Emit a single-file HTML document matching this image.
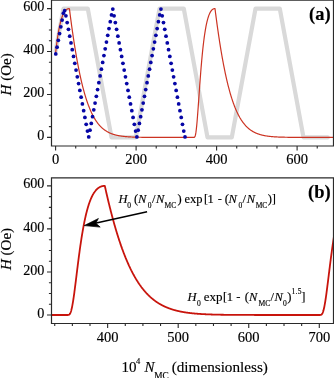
<!DOCTYPE html>
<html><head><meta charset="utf-8"><style>
html,body{margin:0;padding:0;background:#fff;overflow:hidden;}
svg{display:block;}
text{font-family:"Liberation Serif",serif;stroke:#000;stroke-width:0.15px;}
.t{will-change:transform;}
</style></head><body>
<svg class="t" width="334" height="378" viewBox="0 0 334 378">
<defs>
<clipPath id="ca"><rect x="51.5" y="0.5" width="282" height="145.5"/></clipPath>
<clipPath id="cb"><rect x="51.5" y="177.8" width="282" height="145.7"/></clipPath>
</defs>
<rect width="334" height="378" fill="#fff"/>
<g clip-path="url(#ca)">
<path d="M55.60,51.00 L63.50,8.60 L87.80,8.60 L111.50,137.40 L135.80,137.40 L159.50,8.60 L183.80,8.60 L207.50,137.40 L231.80,137.40 L255.50,8.60 L279.80,8.60 L303.50,137.40 L327.80,137.40" fill="none" stroke="#d9d9d9" stroke-width="4.2" stroke-linejoin="round" stroke-linecap="round"/>
<path d="M55.60,53.20 L55.80,51.39 L56.00,49.62 L56.20,47.91 L56.41,46.25 L56.61,44.64 L56.81,43.08 L57.01,41.57 L57.21,40.10 L57.41,38.69 L57.61,37.32 L57.81,35.99 L58.02,34.72 L58.22,33.48 L58.42,32.29 L58.62,31.14 L58.82,30.03 L59.02,28.96 L59.22,27.93 L59.42,26.93 L59.62,25.98 L59.83,25.06 L60.03,24.17 L60.23,23.32 L60.43,22.51 L60.63,21.72 L60.83,20.97 L61.03,20.25 L61.23,19.55 L61.44,18.89 L61.64,18.26 L61.84,17.65 L62.04,17.07 L62.24,16.51 L62.44,15.98 L62.64,15.47 L62.84,14.99 L63.05,14.53 L63.25,14.09 L63.45,13.67 L63.65,13.28 L63.85,12.90 L64.05,12.55 L64.25,12.21 L64.45,11.89 L64.66,11.59 L64.86,11.31 L65.06,11.05 L65.26,10.80 L65.46,10.56 L65.66,10.35 L65.86,10.14 L66.06,9.95 L66.27,9.78 L66.47,9.62 L66.67,9.47 L66.87,9.34 L67.07,9.21 L67.27,9.10 L67.47,9.00 L67.67,8.92 L67.88,8.84 L68.08,8.77 L68.28,8.72 L68.48,8.67 L68.68,8.64 L68.88,8.61 L69.08,8.59 L69.28,8.58 L69.49,9.22 L69.69,10.82 L69.89,12.41 L70.09,13.98 L70.29,15.53 L70.49,17.08 L70.69,18.61 L70.90,20.13 L71.10,21.63 L71.30,23.12 L71.50,24.60 L71.70,26.06 L71.90,27.51 L72.10,28.95 L72.30,30.37 L72.50,31.78 L72.71,33.17 L72.91,34.56 L73.11,35.92 L73.31,37.28 L73.51,38.62 L73.71,39.95 L73.91,41.27 L74.12,42.57 L74.32,43.86 L74.52,45.13 L74.72,46.40 L74.92,47.65 L75.12,48.88 L75.32,50.11 L75.52,51.32 L75.72,52.52 L75.93,53.70 L76.13,54.88 L76.33,56.04 L76.53,57.18 L76.73,58.32 L76.93,59.44 L77.13,60.55 L77.34,61.65 L77.54,62.73 L77.74,63.81 L77.94,64.87 L78.14,65.92 L78.34,66.95 L78.54,67.98 L78.74,68.99 L78.95,69.99 L79.15,70.98 L79.35,71.96 L79.55,72.92 L79.75,73.88 L79.95,74.82 L80.15,75.75 L80.35,76.67 L80.56,77.58 L80.76,78.48 L80.96,79.37 L81.16,80.25 L81.36,81.11 L81.56,81.97 L81.76,82.81 L81.96,83.65 L82.17,84.47 L82.37,85.28 L82.57,86.08 L82.77,86.88 L82.97,87.66 L83.17,88.43 L83.37,89.19 L83.57,89.94 L83.78,90.69 L83.98,91.42 L84.18,92.14 L84.38,92.86 L84.58,93.56 L84.78,94.25 L84.98,94.94 L85.18,95.62 L85.39,96.28 L85.59,96.94 L85.79,97.59 L85.99,98.23 L86.19,98.86 L86.39,99.48 L86.59,100.10 L86.79,100.70 L87.00,101.30 L87.20,101.89 L87.40,102.47 L87.60,103.04 L87.80,103.61 L88.00,104.17 L88.20,104.71 L88.40,105.26 L88.61,105.79 L88.81,106.31 L89.01,106.83 L89.21,107.34 L89.41,107.85 L89.61,108.34 L89.81,108.83 L90.01,109.31 L90.22,109.79 L90.42,110.25 L90.62,110.71 L90.82,111.17 L91.02,111.62 L91.22,112.06 L91.42,112.49 L91.62,112.92 L91.83,113.34 L92.03,113.75 L92.23,114.16 L92.43,114.56 L92.63,114.96 L92.83,115.35 L93.03,115.73 L93.23,116.11 L93.44,116.48 L93.64,116.85 L93.84,117.21 L94.04,117.56 L94.24,117.91 L94.44,118.26 L94.64,118.60 L94.84,118.93 L95.05,119.26 L95.25,119.58 L95.45,119.90 L95.65,120.21 L95.85,120.52 L96.05,120.82 L96.25,121.12 L96.45,121.42 L96.66,121.70 L96.86,121.99 L97.06,122.27 L97.26,122.54 L97.46,122.81 L97.66,123.08 L97.86,123.34 L98.06,123.60 L98.27,123.85 L98.47,124.10 L98.67,124.34 L98.87,124.58 L99.07,124.82 L99.27,125.05 L99.47,125.28 L99.67,125.51 L99.88,125.73 L100.08,125.95 L100.28,126.16 L100.48,126.37 L100.68,126.58 L100.88,126.78 L101.08,126.98 L101.28,127.18 L101.49,127.37 L101.69,127.56 L101.89,127.75 L102.09,127.93 L102.29,128.11 L102.49,128.29 L102.69,128.46 L102.89,128.63 L103.09,128.80 L103.30,128.96 L103.50,129.13 L103.70,129.28 L103.90,129.44 L104.10,129.59 L104.30,129.75 L104.50,129.89 L104.71,130.04 L104.91,130.18 L105.11,130.32 L105.31,130.46 L105.51,130.60 L105.71,130.73 L105.91,130.86 L106.11,130.99 L106.31,131.11 L106.52,131.24 L106.72,131.36 L106.92,131.48 L107.12,131.60 L107.32,131.71 L107.52,131.82 L107.72,131.94 L107.93,132.04 L108.13,132.15 L108.33,132.26 L108.53,132.36 L108.73,132.46 L108.93,132.56 L109.13,132.66 L109.33,132.75 L109.53,132.85 L109.74,132.94 L109.94,133.03 L110.14,133.12 L110.34,133.20 L110.54,133.29 L110.74,133.37 L110.94,133.45 L111.15,133.54 L111.35,133.61 L111.55,133.69 L111.75,133.77 L111.95,133.84 L112.15,133.92 L112.35,133.99 L112.55,134.06 L112.75,134.13 L112.96,134.19 L113.16,134.26 L113.36,134.33 L113.56,134.39 L113.76,134.45 L113.96,134.51 L114.16,134.57 L114.37,134.63 L114.57,134.69 L114.77,134.75 L114.97,134.80 L115.17,134.86 L115.37,134.91 L115.57,134.96 L115.77,135.02 L115.98,135.07 L116.18,135.12 L116.38,135.16 L116.58,135.21 L116.78,135.26 L116.98,135.30 L117.18,135.35 L117.38,135.39 L117.59,135.44 L117.79,135.48 L117.99,135.52 L118.19,135.56 L118.39,135.60 L118.59,135.64 L118.79,135.68 L118.99,135.71 L119.20,135.75 L119.40,135.78 L119.60,135.82 L119.80,135.85 L120.00,135.89 L120.20,135.92 L120.40,135.95 L120.60,135.98 L120.81,136.02 L121.01,136.05 L121.21,136.08 L121.41,136.10 L121.61,136.13 L121.81,136.16 L122.01,136.19 L122.21,136.21 L122.41,136.24 L122.62,136.27 L122.82,136.29 L123.02,136.32 L123.22,136.34 L123.42,136.36 L123.62,136.39 L123.82,136.41 L124.03,136.43 L124.23,136.45 L124.43,136.47 L124.63,136.50 L124.83,136.52 L125.03,136.54 L125.23,136.55 L125.43,136.57 L125.64,136.59 L125.84,136.61 L126.04,136.63 L126.24,136.65 L126.44,136.66 L126.64,136.68 L126.84,136.70 L127.04,136.71 L127.25,136.73 L127.45,136.74 L127.65,136.76 L127.85,136.77 L128.05,136.79 L128.25,136.80 L128.45,136.81 L128.65,136.83 L128.86,136.84 L129.06,136.85 L129.26,136.87 L129.46,136.88 L129.66,136.89 L129.86,136.90 L130.06,136.91 L130.26,136.93 L130.47,136.94 L130.67,136.95 L130.87,136.96 L131.07,136.97 L131.27,136.98 L131.47,136.99 L131.67,137.00 L131.87,137.01 L132.08,137.02 L132.28,137.03 L132.48,137.03 L132.68,137.04 L132.88,137.05 L133.08,137.06 L133.28,137.07 L133.48,137.08 L133.69,137.08 L133.89,137.09 L134.09,137.10 L134.29,137.10 L134.49,137.11 L134.69,137.12 L134.89,137.13 L135.09,137.13 L135.30,137.14 L135.50,137.14 L135.70,137.15 L135.90,137.16 L136.10,137.16 L136.30,137.17 L136.50,137.17 L136.70,137.18 L136.91,137.18 L137.11,137.19 L137.31,137.19 L137.51,137.20 L137.71,137.20 L137.91,137.21 L138.11,137.21 L138.31,137.22 L138.52,137.22 L138.72,137.23 L138.92,137.23 L139.12,137.24 L139.32,137.24 L139.52,137.24 L139.72,137.25 L139.92,137.25 L140.12,137.25 L140.33,137.26 L140.53,137.26 L140.73,137.26 L140.93,137.27 L141.13,137.27 L141.33,137.27 L141.53,137.28 L141.74,137.28 L141.94,137.28 L142.14,137.29 L142.34,137.29 L142.54,137.29 L142.74,137.29 L142.94,137.30 L143.14,137.30 L143.34,137.30 L143.55,137.30 L143.75,137.31 L143.95,137.31 L144.15,137.31 L144.35,137.31 L144.55,137.32 L144.75,137.32 L144.96,137.32 L145.16,137.32 L145.36,137.32 L145.56,137.33 L145.76,137.33 L145.96,137.33 L146.16,137.33 L146.36,137.33 L146.56,137.34 L146.77,137.34 L146.97,137.34 L147.17,137.34 L147.37,137.34 L147.57,137.34 L147.77,137.34 L147.97,137.35 L148.18,137.35 L148.38,137.35 L148.58,137.35 L148.78,137.35 L148.98,137.35 L149.18,137.35 L149.38,137.35 L149.58,137.36 L149.78,137.36 L149.99,137.36 L150.19,137.36 L150.39,137.36 L150.59,137.36 L150.79,137.36 L150.99,137.36 L151.19,137.36 L151.40,137.37 L151.60,137.37 L151.80,137.37 L152.00,137.37 L152.20,137.37 L152.40,137.37 L152.60,137.37 L152.80,137.37 L153.00,137.37 L153.21,137.37 L153.41,137.37 L153.61,137.37 L153.81,137.37 L154.01,137.38 L154.21,137.38 L154.41,137.38 L154.62,137.38 L154.82,137.38 L155.02,137.38 L155.22,137.38 L155.42,137.38 L155.62,137.38 L155.82,137.38 L156.02,137.38 L156.22,137.38 L156.43,137.38 L156.63,137.38 L156.83,137.38 L157.03,137.38 L157.23,137.38 L157.43,137.38 L157.63,137.38 L157.84,137.39 L158.04,137.39 L158.24,137.39 L158.44,137.39 L158.64,137.39 L158.84,137.39 L159.04,137.39 L159.24,137.39 L159.45,137.39 L159.65,137.39 L159.85,137.39 L160.05,137.39 L160.25,137.39 L160.45,137.39 L160.65,137.39 L160.85,137.39 L161.06,137.39 L161.26,137.39 L161.46,137.39 L161.66,137.39 L161.86,137.39 L162.06,137.39 L162.26,137.39 L162.46,137.39 L162.67,137.39 L162.87,137.39 L163.07,137.39 L163.27,137.39 L163.47,137.39 L163.67,137.39 L163.87,137.39 L164.07,137.39 L164.28,137.39 L164.48,137.39 L164.68,137.39 L164.88,137.39 L165.08,137.39 L165.28,137.39 L165.48,137.39 L165.68,137.39 L165.89,137.40 L166.09,137.40 L166.29,137.40 L166.49,137.40 L166.69,137.40 L166.89,137.40 L167.09,137.40 L167.29,137.40 L167.50,137.40 L167.70,137.40 L167.90,137.40 L168.10,137.40 L168.30,137.40 L168.50,137.40 L168.70,137.40 L168.90,137.40 L169.11,137.40 L169.31,137.40 L169.51,137.40 L169.71,137.40 L169.91,137.40 L170.11,137.40 L170.31,137.40 L170.51,137.40 L170.72,137.40 L170.92,137.40 L171.12,137.40 L171.32,137.40 L171.52,137.40 L171.72,137.40 L171.92,137.40 L172.12,137.40 L172.33,137.40 L172.53,137.40 L172.73,137.40 L172.93,137.40 L173.13,137.40 L173.33,137.40 L173.53,137.40 L173.73,137.40 L173.94,137.40 L174.14,137.40 L174.34,137.40 L174.54,137.40 L174.74,137.40 L174.94,137.40 L175.14,137.40 L175.34,137.40 L175.55,137.40 L175.75,137.40 L175.95,137.40 L176.15,137.40 L176.35,137.40 L176.55,137.40 L176.75,137.40 L176.95,137.40 L177.16,137.40 L177.36,137.40 L177.56,137.40 L177.76,137.40 L177.96,137.40 L178.16,137.40 L178.36,137.40 L178.56,137.40 L178.77,137.40 L178.97,137.40 L179.17,137.40 L179.37,137.40 L179.57,137.40 L179.77,137.40 L179.97,137.40 L180.17,137.40 L180.38,137.40 L180.58,137.40 L180.78,137.40 L180.98,137.40 L181.18,137.40 L181.38,137.40 L181.58,137.40 L181.78,137.40 L181.99,137.40 L182.19,137.40 L182.39,137.40 L182.59,137.40 L182.79,137.40 L182.99,137.40 L183.19,137.40 L183.39,137.40 L183.59,137.40 L183.80,137.40 L184.00,137.40 L184.20,137.40 L184.40,137.40 L184.60,137.40 L184.80,137.40 L185.00,137.40 L185.21,137.40 L185.41,137.40 L185.61,137.40 L185.81,137.40 L186.01,137.40 L186.21,137.40 L186.41,137.40 L186.61,137.40 L186.81,137.40 L187.02,137.40 L187.22,137.40 L187.42,137.40 L187.62,137.40 L187.82,137.40 L188.02,137.40 L188.22,137.40 L188.43,137.40 L188.63,137.40 L188.83,137.40 L189.03,137.40 L189.23,137.40 L189.43,137.40 L189.63,137.40 L189.83,137.40 L190.03,137.40 L190.24,137.40 L190.44,137.40 L190.64,137.40 L190.84,137.40 L191.04,137.40 L191.24,137.40 L191.44,137.40 L191.65,137.40 L191.85,137.40 L192.05,137.40 L192.25,137.40 L192.45,137.40 L192.65,137.40 L192.85,137.40 L193.05,137.40 L193.25,137.40 L193.46,137.40 L193.66,137.40 L193.86,137.39 L194.06,137.37 L194.26,137.32 L194.46,137.21 L194.66,137.02 L194.87,136.71 L195.07,136.26 L195.27,135.65 L195.47,134.84 L195.67,133.84 L195.87,132.64 L196.07,131.23 L196.27,129.62 L196.47,127.83 L196.68,125.85 L196.88,123.72 L197.08,121.43 L197.28,119.02 L197.48,116.50 L197.68,113.89 L197.88,111.20 L198.09,108.45 L198.29,105.66 L198.49,102.83 L198.69,99.98 L198.89,97.13 L199.09,94.28 L199.29,91.44 L199.49,88.62 L199.69,85.84 L199.90,83.08 L200.10,80.37 L200.30,77.70 L200.50,75.08 L200.70,72.52 L200.90,70.01 L201.10,67.55 L201.31,65.16 L201.51,62.83 L201.71,60.56 L201.91,58.35 L202.11,56.21 L202.31,54.13 L202.51,52.11 L202.71,50.16 L202.91,48.27 L203.12,46.43 L203.32,44.66 L203.52,42.95 L203.72,41.30 L203.92,39.71 L204.12,38.17 L204.32,36.69 L204.53,35.27 L204.73,33.89 L204.93,32.57 L205.13,31.30 L205.33,30.08 L205.53,28.91 L205.73,27.78 L205.93,26.70 L206.13,25.66 L206.34,24.67 L206.54,23.72 L206.74,22.81 L206.94,21.93 L207.14,21.10 L207.34,20.30 L207.54,19.54 L207.75,18.82 L207.95,18.12 L208.15,17.47 L208.35,16.84 L208.55,16.24 L208.75,15.67 L208.95,15.13 L209.15,14.62 L209.35,14.14 L209.56,13.68 L209.76,13.25 L209.96,12.84 L210.16,12.45 L210.36,12.09 L210.56,11.75 L210.76,11.43 L210.97,11.13 L211.17,10.86 L211.37,10.60 L211.57,10.36 L211.77,10.13 L211.97,9.93 L212.17,9.74 L212.37,9.57 L212.58,9.41 L212.78,9.27 L212.98,9.14 L213.18,9.03 L213.38,8.93 L213.58,8.85 L213.78,8.77 L213.98,8.71 L214.19,8.66 L214.39,8.63 L214.59,8.60 L214.79,8.59 L214.99,8.58 L215.19,10.17 L215.39,11.75 L215.59,13.31 L215.80,14.86 L216.00,16.40 L216.20,17.92 L216.40,19.43 L216.60,20.93 L216.80,22.42 L217.00,23.89 L217.20,25.34 L217.41,26.79 L217.61,28.22 L217.81,29.64 L218.01,31.04 L218.21,32.43 L218.41,33.81 L218.61,35.18 L218.81,36.53 L219.02,37.87 L219.22,39.19 L219.42,40.50 L219.62,41.80 L219.82,43.09 L220.02,44.36 L220.22,45.62 L220.42,46.87 L220.62,48.11 L220.83,49.33 L221.03,50.54 L221.23,51.73 L221.43,52.92 L221.63,54.09 L221.83,55.25 L222.03,56.39 L222.24,57.53 L222.44,58.65 L222.64,59.76 L222.84,60.86 L223.04,61.94 L223.24,63.01 L223.44,64.08 L223.64,65.12 L223.84,66.16 L224.05,67.19 L224.25,68.20 L224.45,69.20 L224.65,70.19 L224.85,71.17 L225.05,72.14 L225.25,73.10 L225.46,74.04 L225.66,74.97 L225.86,75.90 L226.06,76.81 L226.26,77.71 L226.46,78.60 L226.66,79.48 L226.86,80.34 L227.06,81.20 L227.27,82.05 L227.47,82.88 L227.67,83.71 L227.87,84.53 L228.07,85.33 L228.27,86.13 L228.47,86.91 L228.68,87.69 L228.88,88.45 L229.08,89.21 L229.28,89.95 L229.48,90.69 L229.68,91.42 L229.88,92.13 L230.08,92.84 L230.28,93.54 L230.49,94.23 L230.69,94.91 L230.89,95.58 L231.09,96.24 L231.29,96.90 L231.49,97.54 L231.69,98.18 L231.90,98.80 L232.10,99.42 L232.30,100.03 L232.50,100.63 L232.70,101.23 L232.90,101.81 L233.10,102.39 L233.30,102.96 L233.50,103.52 L233.71,104.07 L233.91,104.62 L234.11,105.16 L234.31,105.69 L234.51,106.21 L234.71,106.72 L234.91,107.23 L235.12,107.73 L235.32,108.23 L235.52,108.71 L235.72,109.19 L235.92,109.66 L236.12,110.13 L236.32,110.59 L236.52,111.04 L236.72,111.49 L236.93,111.92 L237.13,112.36 L237.33,112.78 L237.53,113.20 L237.73,113.61 L237.93,114.02 L238.13,114.42 L238.34,114.82 L238.54,115.21 L238.74,115.59 L238.94,115.97 L239.14,116.34 L239.34,116.70 L239.54,117.06 L239.74,117.42 L239.94,117.77 L240.15,118.11 L240.35,118.45 L240.55,118.78 L240.75,119.11 L240.95,119.43 L241.15,119.75 L241.35,120.06 L241.56,120.37 L241.76,120.67 L241.96,120.97 L242.16,121.26 L242.36,121.55 L242.56,121.84 L242.76,122.12 L242.96,122.39 L243.16,122.66 L243.37,122.93 L243.57,123.19 L243.77,123.45 L243.97,123.70 L244.17,123.95 L244.37,124.20 L244.57,124.44 L244.78,124.67 L244.98,124.91 L245.18,125.14 L245.38,125.36 L245.58,125.58 L245.78,125.80 L245.98,126.02 L246.18,126.23 L246.39,126.44 L246.59,126.64 L246.79,126.84 L246.99,127.04 L247.19,127.23 L247.39,127.42 L247.59,127.61 L247.79,127.79 L248.00,127.97 L248.20,128.15 L248.40,128.33 L248.60,128.50 L248.80,128.67 L249.00,128.83 L249.20,129.00 L249.40,129.16 L249.61,129.31 L249.81,129.47 L250.01,129.62 L250.21,129.77 L250.41,129.92 L250.61,130.06 L250.81,130.20 L251.01,130.34 L251.22,130.48 L251.42,130.61 L251.62,130.74 L251.82,130.87 L252.02,131.00 L252.22,131.12 L252.42,131.25 L252.62,131.37 L252.83,131.49 L253.03,131.60 L253.23,131.72 L253.43,131.83 L253.63,131.94 L253.83,132.05 L254.03,132.15 L254.23,132.25 L254.44,132.36 L254.64,132.46 L254.84,132.56 L255.04,132.65 L255.24,132.75 L255.44,132.84 L255.64,132.93 L255.84,133.02 L256.05,133.11 L256.25,133.20 L256.45,133.28 L256.65,133.36 L256.85,133.45 L257.05,133.53 L257.25,133.60 L257.45,133.68 L257.66,133.76 L257.86,133.83 L258.06,133.90 L258.26,133.98 L258.46,134.05 L258.66,134.11 L258.86,134.18 L259.06,134.25 L259.27,134.31 L259.47,134.38 L259.67,134.44 L259.87,134.50 L260.07,134.56 L260.27,134.62 L260.47,134.68 L260.67,134.73 L260.88,134.79 L261.08,134.84 L261.28,134.90 L261.48,134.95 L261.68,135.00 L261.88,135.05 L262.08,135.10 L262.28,135.15 L262.49,135.20 L262.69,135.24 L262.89,135.29 L263.09,135.33 L263.29,135.38 L263.49,135.42 L263.69,135.46 L263.89,135.50 L264.10,135.54 L264.30,135.58 L264.50,135.62 L264.70,135.66 L264.90,135.70 L265.10,135.73 L265.30,135.77 L265.50,135.80 L265.71,135.84 L265.91,135.87 L266.11,135.90 L266.31,135.94 L266.51,135.97 L266.71,136.00 L266.91,136.03 L267.11,136.06 L267.31,136.09 L267.52,136.12 L267.72,136.15 L267.92,136.17 L268.12,136.20 L268.32,136.23 L268.52,136.25 L268.72,136.28 L268.93,136.30 L269.13,136.33 L269.33,136.35 L269.53,136.37 L269.73,136.40 L269.93,136.42 L270.13,136.44 L270.33,136.46 L270.54,136.48 L270.74,136.50 L270.94,136.52 L271.14,136.54 L271.34,136.56 L271.54,136.58 L271.74,136.60 L271.94,136.62 L272.15,136.63 L272.35,136.65 L272.55,136.67 L272.75,136.68 L272.95,136.70 L273.15,136.72 L273.35,136.73 L273.55,136.75 L273.75,136.76 L273.96,136.78 L274.16,136.79 L274.36,136.80 L274.56,136.82 L274.76,136.83 L274.96,136.84 L275.16,136.86 L275.37,136.87 L275.57,136.88 L275.77,136.89 L275.97,136.90 L276.17,136.92 L276.37,136.93 L276.57,136.94 L276.77,136.95 L276.98,136.96 L277.18,136.97 L277.38,136.98 L277.58,136.99 L277.78,137.00 L277.98,137.01 L278.18,137.02 L278.38,137.03 L278.59,137.03 L278.79,137.04 L278.99,137.05 L279.19,137.06 L279.39,137.07 L279.59,137.07 L279.79,137.08 L279.99,137.09 L280.20,137.10 L280.40,137.10 L280.60,137.11 L280.80,137.12 L281.00,137.12 L281.20,137.13 L281.40,137.14 L281.60,137.14 L281.81,137.15 L282.01,137.16 L282.21,137.16 L282.41,137.17 L282.61,137.17 L282.81,137.18 L283.01,137.18 L283.21,137.19 L283.42,137.19 L283.62,137.20 L283.82,137.20 L284.02,137.21 L284.22,137.21 L284.42,137.22 L284.62,137.22 L284.82,137.23 L285.03,137.23 L285.23,137.23 L285.43,137.24 L285.63,137.24 L285.83,137.25 L286.03,137.25 L286.23,137.25 L286.43,137.26 L286.64,137.26 L286.84,137.26 L287.04,137.27 L287.24,137.27 L287.44,137.27 L287.64,137.28 L287.84,137.28 L288.04,137.28 L288.25,137.29 L288.45,137.29 L288.65,137.29 L288.85,137.29 L289.05,137.30 L289.25,137.30 L289.45,137.30 L289.65,137.30 L289.86,137.31 L290.06,137.31 L290.26,137.31 L290.46,137.31 L290.66,137.32 L290.86,137.32 L291.06,137.32 L291.26,137.32 L291.47,137.32 L291.67,137.33 L291.87,137.33 L292.07,137.33 L292.27,137.33 L292.47,137.33 L292.67,137.33 L292.87,137.34 L293.08,137.34 L293.28,137.34 L293.48,137.34 L293.68,137.34 L293.88,137.34 L294.08,137.34 L294.28,137.35 L294.48,137.35 L294.69,137.35 L294.89,137.35 L295.09,137.35 L295.29,137.35 L295.49,137.35 L295.69,137.36 L295.89,137.36 L296.09,137.36 L296.30,137.36 L296.50,137.36 L296.70,137.36 L296.90,137.36 L297.10,137.36 L297.30,137.36 L297.50,137.36 L297.70,137.37 L297.91,137.37 L298.11,137.37 L298.31,137.37 L298.51,137.37 L298.71,137.37 L298.91,137.37 L299.11,137.37 L299.31,137.37 L299.52,137.37 L299.72,137.37 L299.92,137.37 L300.12,137.37 L300.32,137.38 L300.52,137.38 L300.72,137.38 L300.92,137.38 L301.12,137.38 L301.33,137.38 L301.53,137.38 L301.73,137.38 L301.93,137.38 L302.13,137.38 L302.33,137.38 L302.53,137.38 L302.74,137.38 L302.94,137.38 L303.14,137.38 L303.34,137.38 L303.54,137.38 L303.74,137.38 L303.94,137.38 L304.14,137.39 L304.35,137.39 L304.55,137.39 L304.75,137.39 L304.95,137.39 L305.15,137.39 L305.35,137.39 L305.55,137.39 L305.75,137.39 L305.96,137.39 L306.16,137.39 L306.36,137.39 L306.56,137.39 L306.76,137.39 L306.96,137.39 L307.16,137.39 L307.36,137.39 L307.56,137.39 L307.77,137.39 L307.97,137.39 L308.17,137.39 L308.37,137.39 L308.57,137.39 L308.77,137.39 L308.97,137.39 L309.18,137.39 L309.38,137.39 L309.58,137.39 L309.78,137.39 L309.98,137.39 L310.18,137.39 L310.38,137.39 L310.58,137.39 L310.79,137.39 L310.99,137.39 L311.19,137.39 L311.39,137.39 L311.59,137.39 L311.79,137.39 L311.99,137.39 L312.19,137.39 L312.40,137.40 L312.60,137.40 L312.80,137.40 L313.00,137.40 L313.20,137.40 L313.40,137.40 L313.60,137.40 L313.80,137.40 L314.01,137.40 L314.21,137.40 L314.41,137.40 L314.61,137.40 L314.81,137.40 L315.01,137.40 L315.21,137.40 L315.41,137.40 L315.62,137.40 L315.82,137.40 L316.02,137.40 L316.22,137.40 L316.42,137.40 L316.62,137.40 L316.82,137.40 L317.02,137.40 L317.23,137.40 L317.43,137.40 L317.63,137.40 L317.83,137.40 L318.03,137.40 L318.23,137.40 L318.43,137.40 L318.63,137.40 L318.84,137.40 L319.04,137.40 L319.24,137.40 L319.44,137.40 L319.64,137.40 L319.84,137.40 L320.04,137.40 L320.24,137.40 L320.45,137.40 L320.65,137.40 L320.85,137.40 L321.05,137.40 L321.25,137.40 L321.45,137.40 L321.65,137.40 L321.85,137.40 L322.06,137.40 L322.26,137.40 L322.46,137.40 L322.66,137.40 L322.86,137.40 L323.06,137.40 L323.26,137.40 L323.46,137.40 L323.67,137.40 L323.87,137.40 L324.07,137.40 L324.27,137.40 L324.47,137.40 L324.67,137.40 L324.87,137.40 L325.07,137.40 L325.28,137.40 L325.48,137.40 L325.68,137.40 L325.88,137.40 L326.08,137.40 L326.28,137.40 L326.48,137.40 L326.68,137.40 L326.89,137.40 L327.09,137.40 L327.29,137.40 L327.49,137.40 L327.69,137.40 L327.89,137.40 L328.09,137.40 L328.29,137.40 L328.50,137.40 L328.70,137.40 L328.90,137.40 L329.10,137.40 L329.30,137.40 L329.50,137.40 L329.70,137.40 L329.90,137.40 L330.11,137.40 L330.31,137.40 L330.51,137.40 L330.71,137.40 L330.91,137.40 L331.11,137.40 L331.31,137.40 L331.51,137.40 L331.72,137.40 L331.92,137.40 L332.12,137.40 L332.32,137.40 L332.52,137.40 L332.72,137.40 L332.92,137.40 L333.12,137.40 L333.33,137.40" fill="none" stroke="#cc3322" stroke-width="1.2" stroke-linejoin="round"/>
<g fill="#0606a6"><circle cx="55.78" cy="53.91" r="1.88"/><circle cx="57.05" cy="47.13" r="1.88"/><circle cx="58.31" cy="40.35" r="1.88"/><circle cx="59.58" cy="33.58" r="1.88"/><circle cx="60.85" cy="26.80" r="1.88"/><circle cx="62.12" cy="20.02" r="1.88"/><circle cx="63.38" cy="13.24" r="1.88"/><circle cx="64.65" cy="10.74" r="1.88"/><circle cx="65.92" cy="15.81" r="1.88"/><circle cx="67.18" cy="22.59" r="1.88"/><circle cx="68.45" cy="29.36" r="1.88"/><circle cx="69.72" cy="36.14" r="1.88"/><circle cx="70.99" cy="42.92" r="1.88"/><circle cx="72.25" cy="49.70" r="1.88"/><circle cx="73.52" cy="56.48" r="1.88"/><circle cx="74.79" cy="63.26" r="1.88"/><circle cx="76.05" cy="70.04" r="1.88"/><circle cx="77.32" cy="76.82" r="1.88"/><circle cx="78.59" cy="83.60" r="1.88"/><circle cx="79.86" cy="90.38" r="1.88"/><circle cx="81.12" cy="97.15" r="1.88"/><circle cx="82.39" cy="103.93" r="1.88"/><circle cx="83.66" cy="110.71" r="1.88"/><circle cx="84.92" cy="117.49" r="1.88"/><circle cx="86.19" cy="124.27" r="1.88"/><circle cx="87.46" cy="131.05" r="1.88"/><circle cx="88.73" cy="136.97" r="1.88"/><circle cx="89.99" cy="130.19" r="1.88"/><circle cx="91.26" cy="123.41" r="1.88"/><circle cx="92.53" cy="116.64" r="1.88"/><circle cx="93.79" cy="109.86" r="1.88"/><circle cx="95.06" cy="103.08" r="1.88"/><circle cx="96.33" cy="96.30" r="1.88"/><circle cx="97.59" cy="89.52" r="1.88"/><circle cx="98.86" cy="82.74" r="1.88"/><circle cx="100.13" cy="75.96" r="1.88"/><circle cx="101.40" cy="69.18" r="1.88"/><circle cx="102.66" cy="62.40" r="1.88"/><circle cx="103.93" cy="55.62" r="1.88"/><circle cx="105.20" cy="48.85" r="1.88"/><circle cx="106.46" cy="42.07" r="1.88"/><circle cx="107.73" cy="35.29" r="1.88"/><circle cx="109.00" cy="28.51" r="1.88"/><circle cx="110.27" cy="21.73" r="1.88"/><circle cx="111.53" cy="14.95" r="1.88"/><circle cx="112.80" cy="9.03" r="1.88"/><circle cx="114.07" cy="15.81" r="1.88"/><circle cx="115.33" cy="22.59" r="1.88"/><circle cx="116.60" cy="29.36" r="1.88"/><circle cx="117.87" cy="36.14" r="1.88"/><circle cx="119.14" cy="42.92" r="1.88"/><circle cx="120.40" cy="49.70" r="1.88"/><circle cx="121.67" cy="56.48" r="1.88"/><circle cx="122.94" cy="63.26" r="1.88"/><circle cx="124.20" cy="70.04" r="1.88"/><circle cx="125.47" cy="76.82" r="1.88"/><circle cx="126.74" cy="83.60" r="1.88"/><circle cx="128.01" cy="90.38" r="1.88"/><circle cx="129.27" cy="97.15" r="1.88"/><circle cx="130.54" cy="103.93" r="1.88"/><circle cx="131.81" cy="110.71" r="1.88"/><circle cx="133.07" cy="117.49" r="1.88"/><circle cx="134.34" cy="124.27" r="1.88"/><circle cx="135.61" cy="131.05" r="1.88"/><circle cx="136.88" cy="136.97" r="1.88"/><circle cx="138.14" cy="130.19" r="1.88"/><circle cx="139.41" cy="123.41" r="1.88"/><circle cx="140.68" cy="116.64" r="1.88"/><circle cx="141.94" cy="109.86" r="1.88"/><circle cx="143.21" cy="103.08" r="1.88"/><circle cx="144.48" cy="96.30" r="1.88"/><circle cx="145.74" cy="89.52" r="1.88"/><circle cx="147.01" cy="82.74" r="1.88"/><circle cx="148.28" cy="75.96" r="1.88"/><circle cx="149.55" cy="69.18" r="1.88"/><circle cx="150.81" cy="62.40" r="1.88"/><circle cx="152.08" cy="55.62" r="1.88"/><circle cx="153.35" cy="48.85" r="1.88"/><circle cx="154.61" cy="42.07" r="1.88"/><circle cx="155.88" cy="35.29" r="1.88"/><circle cx="157.15" cy="28.51" r="1.88"/><circle cx="158.42" cy="21.73" r="1.88"/><circle cx="159.68" cy="14.95" r="1.88"/><circle cx="160.95" cy="9.03" r="1.88"/><circle cx="162.22" cy="15.81" r="1.88"/><circle cx="163.48" cy="22.59" r="1.88"/><circle cx="164.75" cy="29.36" r="1.88"/><circle cx="166.02" cy="36.14" r="1.88"/><circle cx="167.29" cy="42.92" r="1.88"/><circle cx="168.55" cy="49.70" r="1.88"/><circle cx="169.82" cy="56.48" r="1.88"/><circle cx="171.09" cy="63.26" r="1.88"/><circle cx="172.35" cy="70.04" r="1.88"/><circle cx="173.62" cy="76.82" r="1.88"/><circle cx="174.89" cy="83.60" r="1.88"/><circle cx="176.16" cy="90.38" r="1.88"/><circle cx="177.42" cy="97.15" r="1.88"/><circle cx="178.69" cy="103.93" r="1.88"/><circle cx="179.96" cy="110.71" r="1.88"/><circle cx="181.22" cy="117.49" r="1.88"/><circle cx="182.49" cy="124.27" r="1.88"/><circle cx="183.76" cy="131.05" r="1.88"/><circle cx="185.03" cy="136.97" r="1.88"/></g>
</g>
<path d="M51.5,0.2H333.5M51.5,0V146.6M333.5,0V146.6M50.9,146H334" stroke="#2a2a2a" stroke-width="1.2" fill="none"/>
<path d="M51.5,137.40h-4.5M51.5,126.67h-2.6M51.5,115.93h-2.6M51.5,105.20h-2.6M51.5,94.46h-4.5M51.5,83.73h-2.6M51.5,72.99h-2.6M51.5,62.26h-2.6M51.5,51.52h-4.5M51.5,40.79h-2.6M51.5,30.05h-2.6M51.5,19.31h-2.6M51.5,8.58h-4.5M55.60,146v4.5M75.72,146v2.6M95.85,146v2.6M115.98,146v2.6M136.10,146v4.5M156.22,146v2.6M176.35,146v2.6M196.47,146v2.6M216.60,146v4.5M236.72,146v2.6M256.85,146v2.6M276.98,146v2.6M297.10,146v4.5M317.23,146v2.6" stroke="#2a2a2a" stroke-width="1.1" fill="none"/>
<g fill="#000"><text transform="translate(44.44,140.00) scale(0.98,1)" font-size="14.5" text-anchor="end">0</text><text transform="translate(44.44,97.06) scale(0.98,1)" font-size="14.5" text-anchor="end">200</text><text transform="translate(44.44,54.12) scale(0.98,1)" font-size="14.5" text-anchor="end">400</text><text transform="translate(44.44,11.18) scale(0.98,1)" font-size="14.5" text-anchor="end">600</text><text x="55.60" y="164.3" font-size="14.5" text-anchor="middle">0</text><text x="136.10" y="164.3" font-size="14.5" text-anchor="middle">200</text><text x="216.60" y="164.3" font-size="14.5" text-anchor="middle">400</text><text x="297.10" y="164.3" font-size="14.5" text-anchor="middle">600</text></g>
<text x="330.6" y="20.4" font-size="18.5" font-weight="bold" text-anchor="end">(a)</text>
<text transform="translate(11.3,95.4) rotate(-90)" font-size="15"><tspan font-style="italic">H</tspan> (Oe)</text>

<g clip-path="url(#cb)">
<path d="M51.20,315.00 L51.38,315.00 L51.55,315.00 L51.73,315.00 L51.91,315.00 L52.08,315.00 L52.26,315.00 L52.43,315.00 L52.61,315.00 L52.79,315.00 L52.96,315.00 L53.14,315.00 L53.32,315.00 L53.49,315.00 L53.67,315.00 L53.85,315.00 L54.02,315.00 L54.20,315.00 L54.37,315.00 L54.55,315.00 L54.73,315.00 L54.90,315.00 L55.08,315.00 L55.26,315.00 L55.43,315.00 L55.61,315.00 L55.79,315.00 L55.96,315.00 L56.14,315.00 L56.31,315.00 L56.49,315.00 L56.67,315.00 L56.84,315.00 L57.02,315.00 L57.20,315.00 L57.37,315.00 L57.55,315.00 L57.73,315.00 L57.90,315.00 L58.08,315.00 L58.26,315.00 L58.43,315.00 L58.61,315.00 L58.78,315.00 L58.96,315.00 L59.14,315.00 L59.31,315.00 L59.49,315.00 L59.67,315.00 L59.84,315.00 L60.02,315.00 L60.20,315.00 L60.37,315.00 L60.55,315.00 L60.72,315.00 L60.90,315.00 L61.08,315.00 L61.25,315.00 L61.43,315.00 L61.61,315.00 L61.78,315.00 L61.96,315.00 L62.14,315.00 L62.31,315.00 L62.49,315.00 L62.66,315.00 L62.84,315.00 L63.02,315.00 L63.19,315.00 L63.37,315.00 L63.55,315.00 L63.72,315.00 L63.90,315.00 L64.08,315.00 L64.25,315.00 L64.43,315.00 L64.60,315.00 L64.78,315.00 L64.96,315.00 L65.13,315.00 L65.31,315.00 L65.49,315.00 L65.66,315.00 L65.84,315.00 L66.02,315.00 L66.19,315.00 L66.37,315.00 L66.54,315.00 L66.72,315.00 L66.90,315.00 L67.07,315.00 L67.25,315.00 L67.43,315.00 L67.60,315.00 L67.78,314.99 L67.96,314.98 L68.13,314.97 L68.31,314.95 L68.48,314.92 L68.66,314.87 L68.84,314.81 L69.01,314.72 L69.19,314.62 L69.37,314.48 L69.54,314.31 L69.72,314.10 L69.90,313.86 L70.07,313.57 L70.25,313.24 L70.42,312.86 L70.60,312.44 L70.78,311.96 L70.95,311.44 L71.13,310.86 L71.31,310.23 L71.48,309.55 L71.66,308.82 L71.84,308.03 L72.01,307.20 L72.19,306.33 L72.37,305.40 L72.54,304.43 L72.72,303.42 L72.89,302.37 L73.07,301.28 L73.25,300.16 L73.42,299.00 L73.60,297.80 L73.78,296.58 L73.95,295.33 L74.13,294.06 L74.31,292.76 L74.48,291.44 L74.66,290.10 L74.83,288.74 L75.01,287.37 L75.19,285.98 L75.36,284.59 L75.54,283.18 L75.72,281.77 L75.89,280.35 L76.07,278.92 L76.25,277.50 L76.42,276.07 L76.60,274.64 L76.77,273.21 L76.95,271.78 L77.13,270.35 L77.30,268.93 L77.48,267.52 L77.66,266.11 L77.83,264.71 L78.01,263.32 L78.19,261.93 L78.36,260.56 L78.54,259.19 L78.71,257.84 L78.89,256.49 L79.07,255.16 L79.24,253.84 L79.42,252.54 L79.60,251.25 L79.77,249.97 L79.95,248.70 L80.13,247.45 L80.30,246.21 L80.48,244.99 L80.65,243.79 L80.83,242.59 L81.01,241.42 L81.18,240.26 L81.36,239.11 L81.54,237.98 L81.71,236.87 L81.89,235.77 L82.07,234.69 L82.24,233.62 L82.42,232.57 L82.59,231.54 L82.77,230.52 L82.95,229.51 L83.12,228.53 L83.30,227.55 L83.48,226.60 L83.65,225.66 L83.83,224.73 L84.01,223.82 L84.18,222.93 L84.36,222.05 L84.53,221.18 L84.71,220.33 L84.89,219.50 L85.06,218.68 L85.24,217.87 L85.42,217.08 L85.59,216.31 L85.77,215.54 L85.95,214.79 L86.12,214.06 L86.30,213.34 L86.47,212.63 L86.65,211.93 L86.83,211.25 L87.00,210.58 L87.18,209.93 L87.36,209.28 L87.53,208.65 L87.71,208.04 L87.89,207.43 L88.06,206.84 L88.24,206.25 L88.42,205.68 L88.59,205.12 L88.77,204.58 L88.94,204.04 L89.12,203.52 L89.30,203.00 L89.47,202.50 L89.65,202.01 L89.83,201.52 L90.00,201.05 L90.18,200.59 L90.36,200.14 L90.53,199.70 L90.71,199.27 L90.88,198.84 L91.06,198.43 L91.24,198.03 L91.41,197.63 L91.59,197.25 L91.77,196.87 L91.94,196.50 L92.12,196.14 L92.30,195.79 L92.47,195.45 L92.65,195.11 L92.82,194.79 L93.00,194.47 L93.18,194.16 L93.35,193.85 L93.53,193.56 L93.71,193.27 L93.88,192.99 L94.06,192.72 L94.24,192.45 L94.41,192.19 L94.59,191.94 L94.76,191.69 L94.94,191.45 L95.12,191.22 L95.29,190.99 L95.47,190.77 L95.65,190.56 L95.82,190.35 L96.00,190.15 L96.18,189.95 L96.35,189.76 L96.53,189.58 L96.70,189.40 L96.88,189.23 L97.06,189.06 L97.23,188.90 L97.41,188.74 L97.59,188.59 L97.76,188.44 L97.94,188.30 L98.12,188.16 L98.29,188.03 L98.47,187.90 L98.64,187.78 L98.82,187.66 L99.00,187.55 L99.17,187.44 L99.35,187.33 L99.53,187.23 L99.70,187.13 L99.88,187.04 L100.06,186.95 L100.23,186.87 L100.41,186.79 L100.59,186.71 L100.76,186.64 L100.94,186.57 L101.11,186.51 L101.29,186.44 L101.47,186.39 L101.64,186.33 L101.82,186.28 L102.00,186.23 L102.17,186.19 L102.35,186.15 L102.53,186.11 L102.70,186.07 L102.88,186.04 L103.05,186.01 L103.23,185.99 L103.41,185.96 L103.58,185.94 L103.76,185.93 L103.94,185.91 L104.11,185.90 L104.29,185.89 L104.47,185.89 L104.64,185.88 L104.82,185.88 L104.99,186.68 L105.17,187.47 L105.35,188.27 L105.52,189.05 L105.70,189.84 L105.88,190.62 L106.05,191.40 L106.23,192.18 L106.41,192.95 L106.58,193.72 L106.76,194.48 L106.93,195.25 L107.11,196.00 L107.29,196.76 L107.46,197.51 L107.64,198.26 L107.82,199.01 L107.99,199.75 L108.17,200.49 L108.35,201.22 L108.52,201.95 L108.70,202.68 L108.87,203.41 L109.05,204.13 L109.23,204.85 L109.40,205.56 L109.58,206.28 L109.76,206.99 L109.93,207.69 L110.11,208.39 L110.29,209.09 L110.46,209.79 L110.64,210.48 L110.81,211.17 L110.99,211.86 L111.17,212.54 L111.34,213.22 L111.52,213.89 L111.70,214.56 L111.87,215.23 L112.05,215.90 L112.23,216.56 L112.40,217.22 L112.58,217.88 L112.75,218.53 L112.93,219.18 L113.11,219.83 L113.28,220.47 L113.46,221.11 L113.64,221.75 L113.81,222.38 L113.99,223.01 L114.17,223.64 L114.34,224.26 L114.52,224.88 L114.70,225.50 L114.87,226.11 L115.05,226.72 L115.22,227.33 L115.40,227.93 L115.58,228.54 L115.75,229.13 L115.93,229.73 L116.11,230.32 L116.28,230.91 L116.46,231.49 L116.64,232.08 L116.81,232.66 L116.99,233.23 L117.16,233.81 L117.34,234.38 L117.52,234.94 L117.69,235.51 L117.87,236.07 L118.05,236.62 L118.22,237.18 L118.40,237.73 L118.58,238.28 L118.75,238.82 L118.93,239.37 L119.10,239.90 L119.28,240.44 L119.46,240.97 L119.63,241.50 L119.81,242.03 L119.99,242.56 L120.16,243.08 L120.34,243.60 L120.52,244.11 L120.69,244.62 L120.87,245.13 L121.04,245.64 L121.22,246.14 L121.40,246.64 L121.57,247.14 L121.75,247.64 L121.93,248.13 L122.10,248.62 L122.28,249.10 L122.46,249.59 L122.63,250.07 L122.81,250.55 L122.98,251.02 L123.16,251.49 L123.34,251.96 L123.51,252.43 L123.69,252.89 L123.87,253.35 L124.04,253.81 L124.22,254.27 L124.40,254.72 L124.57,255.17 L124.75,255.62 L124.92,256.06 L125.10,256.50 L125.28,256.94 L125.45,257.38 L125.63,257.81 L125.81,258.24 L125.98,258.67 L126.16,259.10 L126.34,259.52 L126.51,259.94 L126.69,260.36 L126.86,260.77 L127.04,261.19 L127.22,261.60 L127.39,262.00 L127.57,262.41 L127.75,262.81 L127.92,263.21 L128.10,263.61 L128.28,264.00 L128.45,264.39 L128.63,264.78 L128.81,265.17 L128.98,265.56 L129.16,265.94 L129.33,266.32 L129.51,266.70 L129.69,267.07 L129.86,267.44 L130.04,267.81 L130.22,268.18 L130.39,268.55 L130.57,268.91 L130.75,269.27 L130.92,269.63 L131.10,269.98 L131.27,270.34 L131.45,270.69 L131.63,271.04 L131.80,271.38 L131.98,271.73 L132.16,272.07 L132.33,272.41 L132.51,272.75 L132.69,273.08 L132.86,273.42 L133.04,273.75 L133.21,274.07 L133.39,274.40 L133.57,274.72 L133.74,275.05 L133.92,275.37 L134.10,275.68 L134.27,276.00 L134.45,276.31 L134.63,276.62 L134.80,276.93 L134.98,277.24 L135.15,277.54 L135.33,277.85 L135.51,278.15 L135.68,278.45 L135.86,278.74 L136.04,279.04 L136.21,279.33 L136.39,279.62 L136.57,279.91 L136.74,280.19 L136.92,280.48 L137.09,280.76 L137.27,281.04 L137.45,281.32 L137.62,281.59 L137.80,281.87 L137.98,282.14 L138.15,282.41 L138.33,282.68 L138.51,282.95 L138.68,283.21 L138.86,283.48 L139.03,283.74 L139.21,284.00 L139.39,284.25 L139.56,284.51 L139.74,284.76 L139.92,285.01 L140.09,285.26 L140.27,285.51 L140.45,285.76 L140.62,286.00 L140.80,286.25 L140.97,286.49 L141.15,286.73 L141.33,286.96 L141.50,287.20 L141.68,287.43 L141.86,287.67 L142.03,287.90 L142.21,288.13 L142.39,288.35 L142.56,288.58 L142.74,288.80 L142.92,289.02 L143.09,289.25 L143.27,289.46 L143.44,289.68 L143.62,289.90 L143.80,290.11 L143.97,290.32 L144.15,290.54 L144.33,290.74 L144.50,290.95 L144.68,291.16 L144.86,291.36 L145.03,291.57 L145.21,291.77 L145.38,291.97 L145.56,292.17 L145.74,292.36 L145.91,292.56 L146.09,292.75 L146.27,292.95 L146.44,293.14 L146.62,293.33 L146.80,293.52 L146.97,293.70 L147.15,293.89 L147.32,294.07 L147.50,294.25 L147.68,294.44 L147.85,294.62 L148.03,294.79 L148.21,294.97 L148.38,295.15 L148.56,295.32 L148.74,295.49 L148.91,295.67 L149.09,295.84 L149.26,296.00 L149.44,296.17 L149.62,296.34 L149.79,296.50 L149.97,296.67 L150.15,296.83 L150.32,296.99 L150.50,297.15 L150.68,297.31 L150.85,297.47 L151.03,297.62 L151.20,297.78 L151.38,297.93 L151.56,298.08 L151.73,298.23 L151.91,298.38 L152.09,298.53 L152.26,298.68 L152.44,298.83 L152.62,298.97 L152.79,299.12 L152.97,299.26 L153.14,299.40 L153.32,299.54 L153.50,299.68 L153.67,299.82 L153.85,299.96 L154.03,300.09 L154.20,300.23 L154.38,300.36 L154.56,300.49 L154.73,300.63 L154.91,300.76 L155.08,300.89 L155.26,301.02 L155.44,301.14 L155.61,301.27 L155.79,301.39 L155.97,301.52 L156.14,301.64 L156.32,301.76 L156.50,301.89 L156.67,302.01 L156.85,302.13 L157.03,302.24 L157.20,302.36 L157.38,302.48 L157.55,302.59 L157.73,302.71 L157.91,302.82 L158.08,302.93 L158.26,303.05 L158.44,303.16 L158.61,303.27 L158.79,303.38 L158.97,303.48 L159.14,303.59 L159.32,303.70 L159.49,303.80 L159.67,303.91 L159.85,304.01 L160.02,304.11 L160.20,304.21 L160.38,304.31 L160.55,304.41 L160.73,304.51 L160.91,304.61 L161.08,304.71 L161.26,304.81 L161.43,304.90 L161.61,305.00 L161.79,305.09 L161.96,305.19 L162.14,305.28 L162.32,305.37 L162.49,305.46 L162.67,305.55 L162.85,305.64 L163.02,305.73 L163.20,305.82 L163.37,305.90 L163.55,305.99 L163.73,306.08 L163.90,306.16 L164.08,306.25 L164.26,306.33 L164.43,306.41 L164.61,306.49 L164.79,306.58 L164.96,306.66 L165.14,306.74 L165.31,306.82 L165.49,306.89 L165.67,306.97 L165.84,307.05 L166.02,307.13 L166.20,307.20 L166.37,307.28 L166.55,307.35 L166.73,307.42 L166.90,307.50 L167.08,307.57 L167.25,307.64 L167.43,307.71 L167.61,307.78 L167.78,307.85 L167.96,307.92 L168.14,307.99 L168.31,308.06 L168.49,308.13 L168.67,308.19 L168.84,308.26 L169.02,308.33 L169.19,308.39 L169.37,308.46 L169.55,308.52 L169.72,308.58 L169.90,308.65 L170.08,308.71 L170.25,308.77 L170.43,308.83 L170.61,308.89 L170.78,308.95 L170.96,309.01 L171.13,309.07 L171.31,309.13 L171.49,309.19 L171.66,309.25 L171.84,309.30 L172.02,309.36 L172.19,309.41 L172.37,309.47 L172.55,309.52 L172.72,309.58 L172.90,309.63 L173.08,309.69 L173.25,309.74 L173.43,309.79 L173.60,309.84 L173.78,309.89 L173.96,309.95 L174.13,310.00 L174.31,310.05 L174.49,310.10 L174.66,310.14 L174.84,310.19 L175.02,310.24 L175.19,310.29 L175.37,310.34 L175.54,310.38 L175.72,310.43 L175.90,310.48 L176.07,310.52 L176.25,310.57 L176.43,310.61 L176.60,310.66 L176.78,310.70 L176.96,310.74 L177.13,310.79 L177.31,310.83 L177.48,310.87 L177.66,310.91 L177.84,310.95 L178.01,311.00 L178.19,311.04 L178.37,311.08 L178.54,311.12 L178.72,311.16 L178.90,311.20 L179.07,311.23 L179.25,311.27 L179.42,311.31 L179.60,311.35 L179.78,311.39 L179.95,311.42 L180.13,311.46 L180.31,311.50 L180.48,311.53 L180.66,311.57 L180.84,311.60 L181.01,311.64 L181.19,311.67 L181.36,311.71 L181.54,311.74 L181.72,311.77 L181.89,311.81 L182.07,311.84 L182.25,311.87 L182.42,311.91 L182.60,311.94 L182.78,311.97 L182.95,312.00 L183.13,312.03 L183.30,312.06 L183.48,312.09 L183.66,312.12 L183.83,312.15 L184.01,312.18 L184.19,312.21 L184.36,312.24 L184.54,312.27 L184.72,312.30 L184.89,312.33 L185.07,312.35 L185.25,312.38 L185.42,312.41 L185.60,312.44 L185.77,312.46 L185.95,312.49 L186.13,312.52 L186.30,312.54 L186.48,312.57 L186.66,312.59 L186.83,312.62 L187.01,312.64 L187.19,312.67 L187.36,312.69 L187.54,312.72 L187.71,312.74 L187.89,312.77 L188.07,312.79 L188.24,312.81 L188.42,312.84 L188.60,312.86 L188.77,312.88 L188.95,312.90 L189.13,312.93 L189.30,312.95 L189.48,312.97 L189.65,312.99 L189.83,313.01 L190.01,313.04 L190.18,313.06 L190.36,313.08 L190.54,313.10 L190.71,313.12 L190.89,313.14 L191.07,313.16 L191.24,313.18 L191.42,313.20 L191.59,313.22 L191.77,313.24 L191.95,313.25 L192.12,313.27 L192.30,313.29 L192.48,313.31 L192.65,313.33 L192.83,313.35 L193.01,313.36 L193.18,313.38 L193.36,313.40 L193.53,313.42 L193.71,313.43 L193.89,313.45 L194.06,313.47 L194.24,313.48 L194.42,313.50 L194.59,313.52 L194.77,313.53 L194.95,313.55 L195.12,313.57 L195.30,313.58 L195.47,313.60 L195.65,313.61 L195.83,313.63 L196.00,313.64 L196.18,313.66 L196.36,313.67 L196.53,313.69 L196.71,313.70 L196.89,313.71 L197.06,313.73 L197.24,313.74 L197.41,313.76 L197.59,313.77 L197.77,313.78 L197.94,313.80 L198.12,313.81 L198.30,313.82 L198.47,313.84 L198.65,313.85 L198.83,313.86 L199.00,313.87 L199.18,313.89 L199.36,313.90 L199.53,313.91 L199.71,313.92 L199.88,313.93 L200.06,313.95 L200.24,313.96 L200.41,313.97 L200.59,313.98 L200.77,313.99 L200.94,314.00 L201.12,314.01 L201.30,314.03 L201.47,314.04 L201.65,314.05 L201.82,314.06 L202.00,314.07 L202.18,314.08 L202.35,314.09 L202.53,314.10 L202.71,314.11 L202.88,314.12 L203.06,314.13 L203.24,314.14 L203.41,314.15 L203.59,314.16 L203.76,314.17 L203.94,314.18 L204.12,314.19 L204.29,314.20 L204.47,314.20 L204.65,314.21 L204.82,314.22 L205.00,314.23 L205.18,314.24 L205.35,314.25 L205.53,314.26 L205.70,314.27 L205.88,314.27 L206.06,314.28 L206.23,314.29 L206.41,314.30 L206.59,314.31 L206.76,314.31 L206.94,314.32 L207.12,314.33 L207.29,314.34 L207.47,314.34 L207.64,314.35 L207.82,314.36 L208.00,314.37 L208.17,314.37 L208.35,314.38 L208.53,314.39 L208.70,314.39 L208.88,314.40 L209.06,314.41 L209.23,314.42 L209.41,314.42 L209.58,314.43 L209.76,314.44 L209.94,314.44 L210.11,314.45 L210.29,314.45 L210.47,314.46 L210.64,314.47 L210.82,314.47 L211.00,314.48 L211.17,314.49 L211.35,314.49 L211.52,314.50 L211.70,314.50 L211.88,314.51 L212.05,314.51 L212.23,314.52 L212.41,314.53 L212.58,314.53 L212.76,314.54 L212.94,314.54 L213.11,314.55 L213.29,314.55 L213.47,314.56 L213.64,314.56 L213.82,314.57 L213.99,314.57 L214.17,314.58 L214.35,314.58 L214.52,314.59 L214.70,314.59 L214.88,314.60 L215.05,314.60 L215.23,314.61 L215.41,314.61 L215.58,314.62 L215.76,314.62 L215.93,314.62 L216.11,314.63 L216.29,314.63 L216.46,314.64 L216.64,314.64 L216.82,314.65 L216.99,314.65 L217.17,314.65 L217.35,314.66 L217.52,314.66 L217.70,314.67 L217.87,314.67 L218.05,314.67 L218.23,314.68 L218.40,314.68 L218.58,314.69 L218.76,314.69 L218.93,314.69 L219.11,314.70 L219.29,314.70 L219.46,314.70 L219.64,314.71 L219.81,314.71 L219.99,314.71 L220.17,314.72 L220.34,314.72 L220.52,314.72 L220.70,314.73 L220.87,314.73 L221.05,314.73 L221.23,314.74 L221.40,314.74 L221.58,314.74 L221.75,314.75 L221.93,314.75 L222.11,314.75 L222.28,314.76 L222.46,314.76 L222.64,314.76 L222.81,314.76 L222.99,314.77 L223.17,314.77 L223.34,314.77 L223.52,314.77 L223.69,314.78 L223.87,314.78 L224.05,314.78 L224.22,314.79 L224.40,314.79 L224.58,314.79 L224.75,314.79 L224.93,314.80 L225.11,314.80 L225.28,314.80 L225.46,314.80 L225.63,314.81 L225.81,314.81 L225.99,314.81 L226.16,314.81 L226.34,314.81 L226.52,314.82 L226.69,314.82 L226.87,314.82 L227.05,314.82 L227.22,314.83 L227.40,314.83 L227.57,314.83 L227.75,314.83 L227.93,314.83 L228.10,314.84 L228.28,314.84 L228.46,314.84 L228.63,314.84 L228.81,314.84 L228.99,314.85 L229.16,314.85 L229.34,314.85 L229.52,314.85 L229.69,314.85 L229.87,314.85 L230.04,314.86 L230.22,314.86 L230.40,314.86 L230.57,314.86 L230.75,314.86 L230.93,314.87 L231.10,314.87 L231.28,314.87 L231.46,314.87 L231.63,314.87 L231.81,314.87 L231.98,314.87 L232.16,314.88 L232.34,314.88 L232.51,314.88 L232.69,314.88 L232.87,314.88 L233.04,314.88 L233.22,314.89 L233.40,314.89 L233.57,314.89 L233.75,314.89 L233.92,314.89 L234.10,314.89 L234.28,314.89 L234.45,314.89 L234.63,314.90 L234.81,314.90 L234.98,314.90 L235.16,314.90 L235.34,314.90 L235.51,314.90 L235.69,314.90 L235.86,314.90 L236.04,314.91 L236.22,314.91 L236.39,314.91 L236.57,314.91 L236.75,314.91 L236.92,314.91 L237.10,314.91 L237.28,314.91 L237.45,314.91 L237.63,314.92 L237.80,314.92 L237.98,314.92 L238.16,314.92 L238.33,314.92 L238.51,314.92 L238.69,314.92 L238.86,314.92 L239.04,314.92 L239.22,314.92 L239.39,314.93 L239.57,314.93 L239.74,314.93 L239.92,314.93 L240.10,314.93 L240.27,314.93 L240.45,314.93 L240.63,314.93 L240.80,314.93 L240.98,314.93 L241.16,314.93 L241.33,314.94 L241.51,314.94 L241.69,314.94 L241.86,314.94 L242.04,314.94 L242.21,314.94 L242.39,314.94 L242.57,314.94 L242.74,314.94 L242.92,314.94 L243.10,314.94 L243.27,314.94 L243.45,314.94 L243.63,314.95 L243.80,314.95 L243.98,314.95 L244.15,314.95 L244.33,314.95 L244.51,314.95 L244.68,314.95 L244.86,314.95 L245.04,314.95 L245.21,314.95 L245.39,314.95 L245.57,314.95 L245.74,314.95 L245.92,314.95 L246.09,314.95 L246.27,314.95 L246.45,314.96 L246.62,314.96 L246.80,314.96 L246.98,314.96 L247.15,314.96 L247.33,314.96 L247.51,314.96 L247.68,314.96 L247.86,314.96 L248.03,314.96 L248.21,314.96 L248.39,314.96 L248.56,314.96 L248.74,314.96 L248.92,314.96 L249.09,314.96 L249.27,314.96 L249.45,314.96 L249.62,314.96 L249.80,314.97 L249.97,314.97 L250.15,314.97 L250.33,314.97 L250.50,314.97 L250.68,314.97 L250.86,314.97 L251.03,314.97 L251.21,314.97 L251.39,314.97 L251.56,314.97 L251.74,314.97 L251.91,314.97 L252.09,314.97 L252.27,314.97 L252.44,314.97 L252.62,314.97 L252.80,314.97 L252.97,314.97 L253.15,314.97 L253.33,314.97 L253.50,314.97 L253.68,314.97 L253.85,314.97 L254.03,314.97 L254.21,314.97 L254.38,314.98 L254.56,314.98 L254.74,314.98 L254.91,314.98 L255.09,314.98 L255.27,314.98 L255.44,314.98 L255.62,314.98 L255.80,314.98 L255.97,314.98 L256.15,314.98 L256.32,314.98 L256.50,314.98 L256.68,314.98 L256.85,314.98 L257.03,314.98 L257.21,314.98 L257.38,314.98 L257.56,314.98 L257.74,314.98 L257.91,314.98 L258.09,314.98 L258.26,314.98 L258.44,314.98 L258.62,314.98 L258.79,314.98 L258.97,314.98 L259.15,314.98 L259.32,314.98 L259.50,314.98 L259.68,314.98 L259.85,314.98 L260.03,314.98 L260.20,314.98 L260.38,314.98 L260.56,314.98 L260.73,314.98 L260.91,314.98 L261.09,314.99 L261.26,314.99 L261.44,314.99 L261.62,314.99 L261.79,314.99 L261.97,314.99 L262.14,314.99 L262.32,314.99 L262.50,314.99 L262.67,314.99 L262.85,314.99 L263.03,314.99 L263.20,314.99 L263.38,314.99 L263.56,314.99 L263.73,314.99 L263.91,314.99 L264.08,314.99 L264.26,314.99 L264.44,314.99 L264.61,314.99 L264.79,314.99 L264.97,314.99 L265.14,314.99 L265.32,314.99 L265.50,314.99 L265.67,314.99 L265.85,314.99 L266.02,314.99 L266.20,314.99 L266.38,314.99 L266.55,314.99 L266.73,314.99 L266.91,314.99 L267.08,314.99 L267.26,314.99 L267.44,314.99 L267.61,314.99 L267.79,314.99 L267.96,314.99 L268.14,314.99 L268.32,314.99 L268.49,314.99 L268.67,314.99 L268.85,314.99 L269.02,314.99 L269.20,314.99 L269.38,314.99 L269.55,314.99 L269.73,314.99 L269.91,314.99 L270.08,314.99 L270.26,314.99 L270.43,314.99 L270.61,314.99 L270.79,314.99 L270.96,314.99 L271.14,314.99 L271.32,314.99 L271.49,314.99 L271.67,314.99 L271.85,314.99 L272.02,314.99 L272.20,314.99 L272.37,314.99 L272.55,314.99 L272.73,314.99 L272.90,314.99 L273.08,314.99 L273.26,314.99 L273.43,314.99 L273.61,314.99 L273.79,314.99 L273.96,314.99 L274.14,314.99 L274.31,314.99 L274.49,314.99 L274.67,314.99 L274.84,314.99 L275.02,314.99 L275.20,314.99 L275.37,315.00 L275.55,315.00 L275.73,315.00 L275.90,315.00 L276.08,315.00 L276.25,315.00 L276.43,315.00 L276.61,315.00 L276.78,315.00 L276.96,315.00 L277.14,315.00 L277.31,315.00 L277.49,315.00 L277.67,315.00 L277.84,315.00 L278.02,315.00 L278.19,315.00 L278.37,315.00 L278.55,315.00 L278.72,315.00 L278.90,315.00 L279.08,315.00 L279.25,315.00 L279.43,315.00 L279.61,315.00 L279.78,315.00 L279.96,315.00 L280.13,315.00 L280.31,315.00 L280.49,315.00 L280.66,315.00 L280.84,315.00 L281.02,315.00 L281.19,315.00 L281.37,315.00 L281.55,315.00 L281.72,315.00 L281.90,315.00 L282.07,315.00 L282.25,315.00 L282.43,315.00 L282.60,315.00 L282.78,315.00 L282.96,315.00 L283.13,315.00 L283.31,315.00 L283.49,315.00 L283.66,315.00 L283.84,315.00 L284.01,315.00 L284.19,315.00 L284.37,315.00 L284.54,315.00 L284.72,315.00 L284.90,315.00 L285.07,315.00 L285.25,315.00 L285.43,315.00 L285.60,315.00 L285.78,315.00 L285.96,315.00 L286.13,315.00 L286.31,315.00 L286.48,315.00 L286.66,315.00 L286.84,315.00 L287.01,315.00 L287.19,315.00 L287.37,315.00 L287.54,315.00 L287.72,315.00 L287.90,315.00 L288.07,315.00 L288.25,315.00 L288.42,315.00 L288.60,315.00 L288.78,315.00 L288.95,315.00 L289.13,315.00 L289.31,315.00 L289.48,315.00 L289.66,315.00 L289.84,315.00 L290.01,315.00 L290.19,315.00 L290.36,315.00 L290.54,315.00 L290.72,315.00 L290.89,315.00 L291.07,315.00 L291.25,315.00 L291.42,315.00 L291.60,315.00 L291.78,315.00 L291.95,315.00 L292.13,315.00 L292.30,315.00 L292.48,315.00 L292.66,315.00 L292.83,315.00 L293.01,315.00 L293.19,315.00 L293.36,315.00 L293.54,315.00 L293.72,315.00 L293.89,315.00 L294.07,315.00 L294.24,315.00 L294.42,315.00 L294.60,315.00 L294.77,315.00 L294.95,315.00 L295.13,315.00 L295.30,315.00 L295.48,315.00 L295.66,315.00 L295.83,315.00 L296.01,315.00 L296.18,315.00 L296.36,315.00 L296.54,315.00 L296.71,315.00 L296.89,315.00 L297.07,315.00 L297.24,315.00 L297.42,315.00 L297.60,315.00 L297.77,315.00 L297.95,315.00 L298.12,315.00 L298.30,315.00 L298.48,315.00 L298.65,315.00 L298.83,315.00 L299.01,315.00 L299.18,315.00 L299.36,315.00 L299.54,315.00 L299.71,315.00 L299.89,315.00 L300.07,315.00 L300.24,315.00 L300.42,315.00 L300.59,315.00 L300.77,315.00 L300.95,315.00 L301.12,315.00 L301.30,315.00 L301.48,315.00 L301.65,315.00 L301.83,315.00 L302.01,315.00 L302.18,315.00 L302.36,315.00 L302.53,315.00 L302.71,315.00 L302.89,315.00 L303.06,315.00 L303.24,315.00 L303.42,315.00 L303.59,315.00 L303.77,315.00 L303.95,315.00 L304.12,315.00 L304.30,315.00 L304.47,315.00 L304.65,315.00 L304.83,315.00 L305.00,315.00 L305.18,315.00 L305.36,315.00 L305.53,315.00 L305.71,315.00 L305.89,315.00 L306.06,315.00 L306.24,315.00 L306.41,315.00 L306.59,315.00 L306.77,315.00 L306.94,315.00 L307.12,315.00 L307.30,315.00 L307.47,315.00 L307.65,315.00 L307.83,315.00 L308.00,315.00 L308.18,315.00 L308.35,315.00 L308.53,315.00 L308.71,315.00 L308.88,315.00 L309.06,315.00 L309.24,315.00 L309.41,315.00 L309.59,315.00 L309.77,315.00 L309.94,315.00 L310.12,315.00 L310.29,315.00 L310.47,315.00 L310.65,315.00 L310.82,315.00 L311.00,315.00 L311.18,315.00 L311.35,315.00 L311.53,315.00 L311.71,315.00 L311.88,315.00 L312.06,315.00 L312.24,315.00 L312.41,315.00 L312.59,315.00 L312.76,315.00 L312.94,315.00 L313.12,315.00 L313.29,315.00 L313.47,315.00 L313.65,315.00 L313.82,315.00 L314.00,315.00 L314.18,315.00 L314.35,315.00 L314.53,315.00 L314.70,315.00 L314.88,315.00 L315.06,315.00 L315.23,315.00 L315.41,315.00 L315.59,315.00 L315.76,315.00 L315.94,315.00 L316.12,315.00 L316.29,315.00 L316.47,315.00 L316.64,315.00 L316.82,315.00 L317.00,315.00 L317.17,315.00 L317.35,315.00 L317.53,315.00 L317.70,315.00 L317.88,315.00 L318.06,315.00 L318.23,315.00 L318.41,315.00 L318.58,315.00 L318.76,315.00 L318.94,315.00 L319.11,315.00 L319.29,315.00 L319.47,315.00 L319.64,315.00 L319.82,315.00 L320.00,314.99 L320.17,314.98 L320.35,314.97 L320.52,314.95 L320.70,314.92 L320.88,314.87 L321.05,314.81 L321.23,314.72 L321.41,314.62 L321.58,314.48 L321.76,314.31 L321.94,314.10 L322.11,313.86 L322.29,313.57 L322.46,313.24 L322.64,312.86 L322.82,312.44 L322.99,311.96 L323.17,311.44 L323.35,310.86 L323.52,310.23 L323.70,309.55 L323.88,308.82 L324.05,308.03 L324.23,307.20 L324.40,306.33 L324.58,305.40 L324.76,304.43 L324.93,303.42 L325.11,302.37 L325.29,301.28 L325.46,300.16 L325.64,299.00 L325.82,297.80 L325.99,296.58 L326.17,295.33 L326.34,294.06 L326.52,292.76 L326.70,291.44 L326.87,290.10 L327.05,288.74 L327.23,287.37 L327.40,285.98 L327.58,284.59 L327.76,283.18 L327.93,281.77 L328.11,280.35 L328.29,278.92 L328.46,277.50 L328.64,276.07 L328.81,274.64 L328.99,273.21 L329.17,271.78 L329.34,270.35 L329.52,268.93 L329.70,267.52 L329.87,266.11 L330.05,264.71 L330.23,263.32 L330.40,261.93 L330.58,260.56 L330.75,259.19 L330.93,257.84 L331.11,256.49 L331.28,255.16 L331.46,253.84 L331.64,252.54 L331.81,251.25 L331.99,249.97 L332.17,248.70 L332.34,247.45 L332.52,246.21 L332.69,244.99 L332.87,243.79 L333.05,242.59 L333.22,241.42 L333.40,240.26 L333.58,239.11 L333.75,237.98 L333.93,236.87 L334.11,235.77 L334.28,234.69 L334.46,233.62 L334.63,232.57 L334.81,231.54" fill="none" stroke="#c8140c" stroke-width="1.8" stroke-linejoin="round"/>
</g>
<path d="M50.9,177.8H334M51.5,177.2V324.1M333.5,177.2V324.1M50.9,323.5H334" stroke="#2a2a2a" stroke-width="1.2" fill="none"/>
<path d="M51.5,315.00h-4.5M51.5,304.24h-2.6M51.5,293.48h-2.6M51.5,282.72h-2.6M51.5,271.96h-4.5M51.5,261.20h-2.6M51.5,250.44h-2.6M51.5,239.68h-2.6M51.5,228.92h-4.5M51.5,218.16h-2.6M51.5,207.40h-2.6M51.5,196.64h-2.6M51.5,185.88h-4.5M54.73,323.5v2.6M72.37,323.5v2.6M90.00,323.5v2.6M107.64,323.5v4.5M125.28,323.5v2.6M142.92,323.5v2.6M160.55,323.5v2.6M178.19,323.5v4.5M195.83,323.5v2.6M213.47,323.5v2.6M231.10,323.5v2.6M248.74,323.5v4.5M266.38,323.5v2.6M284.01,323.5v2.6M301.65,323.5v2.6M319.29,323.5v4.5" stroke="#2a2a2a" stroke-width="1.1" fill="none"/>
<g fill="#000"><text transform="translate(44.44,317.60) scale(0.98,1)" font-size="14.5" text-anchor="end">0</text><text transform="translate(44.44,274.56) scale(0.98,1)" font-size="14.5" text-anchor="end">200</text><text transform="translate(44.44,231.52) scale(0.98,1)" font-size="14.5" text-anchor="end">400</text><text transform="translate(44.44,188.48) scale(0.98,1)" font-size="14.5" text-anchor="end">600</text><text x="107.64" y="341.5" font-size="14.5" text-anchor="middle">400</text><text x="178.19" y="341.5" font-size="14.5" text-anchor="middle">500</text><text x="248.74" y="341.5" font-size="14.5" text-anchor="middle">600</text><text x="319.29" y="341.5" font-size="14.5" text-anchor="middle">700</text></g>
<text x="330.6" y="198.3" font-size="18.5" font-weight="bold" text-anchor="end">(b)</text>
<text transform="translate(11.3,270.0) rotate(-90)" font-size="15"><tspan font-style="italic">H</tspan> (Oe)</text>

<path d="M147.1,211.8 L94,223.5" stroke="#000" stroke-width="1.6" fill="none"/>
<path d="M84.2,225.6 L98.4,218.5 L95.8,223.2 L100.2,227.1 Z" fill="#000" stroke="#000" stroke-width="0.7" stroke-linejoin="round"/>

<g fill="#000"><text x="118.53" y="202.70" font-size="12.5" font-style="italic">H</text><text x="127.31" y="207.90" font-size="7.5">0</text><text x="133.95" y="202.70" font-size="12.5">(</text><text x="138.09" y="202.70" font-size="12.5" font-style="italic">N</text><text x="147.81" y="207.90" font-size="7.5">0</text><text x="152.00" y="202.70" font-size="12.5">/</text><text x="155.89" y="202.70" font-size="12.5" font-style="italic">N</text><text x="164.58" y="207.90" font-size="7.5">MC</text><text x="177.40" y="202.70" font-size="12.5">)</text><text x="184.51" y="202.70" font-size="12.5">exp</text><text x="204.07" y="202.70" font-size="12.5">[</text><text x="207.50" y="202.70" font-size="12.5">1</text><text x="217.74" y="202.70" font-size="12.5">-</text><text x="224.85" y="202.70" font-size="12.5">(</text><text x="228.49" y="202.70" font-size="12.5" font-style="italic">N</text><text x="238.41" y="207.90" font-size="7.5">0</text><text x="242.40" y="202.70" font-size="12.5">/</text><text x="246.69" y="202.70" font-size="12.5" font-style="italic">N</text><text x="255.68" y="207.90" font-size="7.5">MC</text><text x="267.70" y="202.70" font-size="12.5">)</text><text x="271.85" y="202.70" font-size="12.5">]</text><text x="187.53" y="300.90" font-size="12.5" font-style="italic">H</text><text x="197.11" y="306.10" font-size="7.5">0</text><text x="203.79" y="300.90" font-size="13">exp</text><text x="223.07" y="300.90" font-size="12.5">[</text><text x="226.70" y="300.90" font-size="12.5">1</text><text x="236.34" y="300.90" font-size="12.5">-</text><text x="244.85" y="300.90" font-size="12.5">(</text><text x="249.09" y="300.90" font-size="12.5" font-style="italic">N</text><text x="258.58" y="306.20" font-size="7.6">MC</text><text x="270.40" y="300.90" font-size="12.5">/</text><text x="274.49" y="300.90" font-size="12.5" font-style="italic">N</text><text x="283.01" y="306.10" font-size="7.5">0</text><text x="287.20" y="300.90" font-size="12.5">)</text><text x="291.44" y="293.90" font-size="7.5" letter-spacing="0.35">1.5</text><text x="301.35" y="300.90" font-size="12.5">]</text><text x="121.38" y="371.50" font-size="15">10</text><text x="135.93" y="363.70" font-size="8.5">4</text><text x="144.41" y="371.50" font-size="15" font-style="italic">N</text><text x="154.13" y="378.60" font-size="9.3">MC</text><text x="171.73" y="371.50" font-size="15.2">(dimensionless)</text></g>
</svg>
</body></html>
